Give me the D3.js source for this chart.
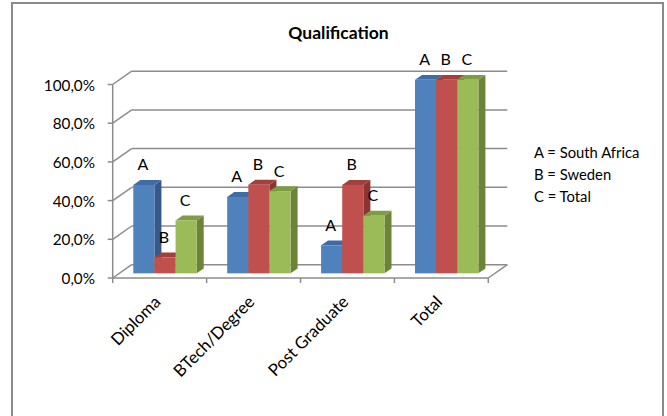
<!DOCTYPE html>
<html>
<head>
<meta charset="utf-8">
<script src="https://cdn.jsdelivr.net/npm/d3@7"></script>
<style>
  html, body { margin: 0; padding: 0; background: #fff; }
  svg { display: block; font-family: Lato, "Open Sans", sans-serif; }
</style>
</head>
<body>
<svg id="chart" width="667" height="416"></svg>
<script>
// Qualification shares per group (percent)
const categories = ["Diploma", "BTech/Degree", "Post Graduate", "Total"];
const seriesKeys = ["A", "B", "C"];
const legendLabels = ["A = South Africa", "B = Sweden", "C = Total"];
const southAfrica = [45.7, 39.5, 14.5, 100];
const sweden = [8.3, 45.8, 45.7, 100];
const total = [27.3, 42.5, 29.8, 100];
const yTicks = [0, 20, 40, 60, 80, 100];

const seriesValues = [southAfrica, sweden, total];
const palette = [
  { front: "#4F81BD", top: "#3F6CA6", side: "#35598A" },
  { front: "#C0504D", top: "#A1403D", side: "#8A3533" },
  { front: "#9BBB59", top: "#7E9C44", side: "#6A8537" }
];

const svg = d3.select("#chart");

// outer chart frame
svg.append("rect")
  .attr("x", 12).attr("y", 3)
  .attr("width", 651).attr("height", 440)
  .attr("fill", "#fff")
  .attr("stroke", "#8a8a8a").attr("stroke-width", 2);

// 3D plot geometry: front plane scales plus a depth vector to the back wall
const left = 112.7, right = 488.3, floorY = 278, topY = 84.5;
const depth = { dx: 19, dy: -13.3 };
const barPlane = 0.35;              // bars sit this far into the depth
const barDepth = { dx: 7, dy: -4.9 };

const y = d3.scaleLinear().domain([0, 100]).range([floorY, topY]);
const x0 = d3.scaleBand().domain(categories).range([left, right]).padding(0);
const x1 = d3.scaleBand().domain(seriesKeys).range([13.95, 77.35]).padding(0);

const gridColor = "#8c8c8c";
const grid = svg.append("g")
  .attr("stroke", gridColor).attr("stroke-width", 1.5).attr("fill", "none");

// back-wall gridlines and left-wall diagonals
yTicks.forEach(v => {
  const yy = y(v);
  grid.append("line")
    .attr("x1", left).attr("y1", yy)
    .attr("x2", left + depth.dx).attr("y2", yy + depth.dy);
  grid.append("line")
    .attr("x1", left + depth.dx).attr("y1", yy + depth.dy)
    .attr("x2", right + depth.dx).attr("y2", yy + depth.dy);
  // value tick
  grid.append("line")
    .attr("x1", left - 5).attr("y1", yy)
    .attr("x2", left).attr("y2", yy);
});

// floor front edge and right floor diagonal
grid.append("line")
  .attr("x1", left).attr("y1", floorY).attr("x2", right).attr("y2", floorY);
grid.append("line")
  .attr("x1", right).attr("y1", floorY)
  .attr("x2", right + depth.dx).attr("y2", floorY + depth.dy);
// vertical value axis
grid.append("line")
  .attr("x1", left).attr("y1", y(100)).attr("x2", left).attr("y2", floorY);
// category ticks
const catEdges = categories.map(c => x0(c)).concat([right]);
catEdges.forEach(xx => {
  grid.append("line")
    .attr("x1", xx).attr("y1", floorY).attr("x2", xx).attr("y2", floorY + 5);
});

// y-axis labels
svg.append("g").selectAll("text")
  .data(yTicks).join("text")
  .attr("x", 95).attr("y", d => y(d) + 6)
  .attr("text-anchor", "end")
  .attr("font-size", 15.3).attr("fill", "#000")
  .text(d => d3.format(".1f")(d).replace(".", ",") + "%");

// bars
const offX = depth.dx * barPlane, offY = depth.dy * barPlane;
const bars = svg.append("g");
categories.forEach((cat, ci) => {
  seriesKeys.forEach((key, si) => {
    const v = seriesValues[si][ci];
    const bx = x0(cat) + offX + x1(key);
    const bw = x1.bandwidth();
    const bTop = y(v) + offY;
    const bBot = y(0) + offY;
    const col = palette[si];
    const g = bars.append("g");
    g.append("polygon")
      .attr("points", [
        [bx + bw, bTop], [bx + bw + barDepth.dx, bTop + barDepth.dy],
        [bx + bw + barDepth.dx, bBot + barDepth.dy], [bx + bw, bBot]
      ].map(p => p.join(",")).join(" "))
      .attr("fill", col.side);
    g.append("polygon")
      .attr("points", [
        [bx, bTop], [bx + bw, bTop],
        [bx + bw + barDepth.dx, bTop + barDepth.dy], [bx + barDepth.dx, bTop + barDepth.dy]
      ].map(p => p.join(",")).join(" "))
      .attr("fill", col.top);
    g.append("rect")
      .attr("x", bx).attr("y", bTop)
      .attr("width", bw).attr("height", bBot - bTop)
      .attr("fill", col.front);
  });
});

// series letters above bars
const letters = svg.append("g")
  .attr("font-size", 16).attr("fill", "#000").attr("text-anchor", "middle");
categories.forEach((cat, ci) => {
  seriesKeys.forEach((key, si) => {
    const v = seriesValues[si][ci];
    const cx = x0(cat) + offX + x1(key) + x1.bandwidth() / 2 - 1;
    letters.append("text")
      .attr("x", cx).attr("y", y(v) + offY - 14.5)
      .text(key);
  });
});

// category labels, rotated
svg.append("g").selectAll("text")
  .data(categories).join("text")
  .attr("transform", d => `translate(${x0(d) + x0.bandwidth() / 2 + 2},303) rotate(-45)`)
  .attr("text-anchor", "end")
  .attr("font-size", 16.8).attr("fill", "#000")
  .text(d => d);

// legend text
svg.append("g").selectAll("text")
  .data(legendLabels).join("text")
  .attr("x", 534).attr("y", (d, i) => 158.3 + i * 21.9)
  .attr("font-size", 14.8).attr("fill", "#000")
  .text(d => d);

// title
svg.append("text")
  .attr("x", 338.5).attr("y", 38.5)
  .attr("text-anchor", "middle")
  .attr("font-size", 17.5).attr("font-weight", "bold").attr("fill", "#000")
  .text("Qualification");
</script>
</body>
</html>
